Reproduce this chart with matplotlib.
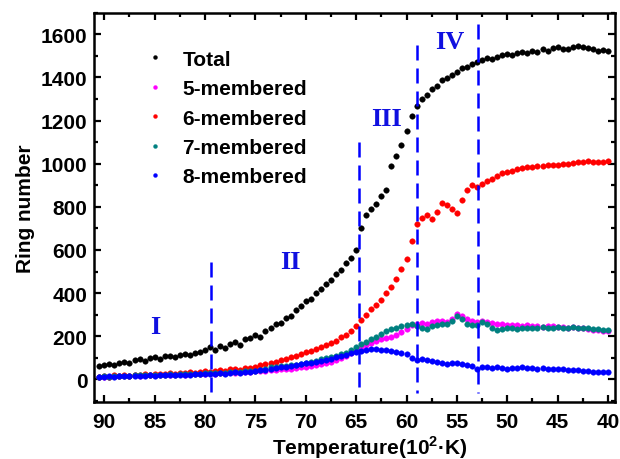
import matplotlib
matplotlib.use('Agg')
import matplotlib.pyplot as plt
from matplotlib.ticker import MultipleLocator

plt.rcParams['font.family'] = ['Liberation Sans', 'DejaVu Sans']
plt.rcParams['font.weight'] = 'bold'
plt.rcParams['mathtext.fontset'] = 'custom'
plt.rcParams['mathtext.rm'] = 'Liberation Sans:bold'
plt.rcParams['mathtext.bf'] = 'Liberation Sans:bold'

# temperature in 10^2 K, sampled every 0.5
temps = [90.5, 90.0, 89.5, 89.0, 88.5, 88.0, 87.5, 87.0, 86.5, 86.0,
         85.5, 85.0, 84.5, 84.0, 83.5, 83.0, 82.5, 82.0, 81.5, 81.0,
         80.5, 80.0, 79.5, 79.0, 78.5, 78.0, 77.5, 77.0, 76.5, 76.0,
         75.5, 75.0, 74.5, 74.0, 73.5, 73.0, 72.5, 72.0, 71.5, 71.0,
         70.5, 70.0, 69.5, 69.0, 68.5, 68.0, 67.5, 67.0, 66.5, 66.0,
         65.5, 65.0, 64.5, 64.0, 63.5, 63.0, 62.5, 62.0, 61.5, 61.0,
         60.5, 60.0, 59.5, 59.0, 58.5, 58.0, 57.5, 57.0, 56.5, 56.0,
         55.5, 55.0, 54.5, 54.0, 53.5, 53.0, 52.5, 52.0, 51.5, 51.0,
         50.5, 50.0, 49.5, 49.0, 48.5, 48.0, 47.5, 47.0, 46.5, 46.0,
         45.5, 45.0, 44.5, 44.0, 43.5, 43.0, 42.5, 42.0, 41.5, 41.0,
         40.5, 40.0]

total = [60, 68, 72, 66, 78, 82, 76, 88, 92, 86,
         98, 102, 94, 106, 110, 104, 115, 118, 112, 122,
         128, 135, 148, 136, 155, 146, 166, 172, 160, 185,
         192, 205, 196, 225, 238, 255, 262, 285, 296, 320,
         338, 365, 372, 400, 418, 440, 462, 490, 508, 540,
         565, 600, 700, 760, 790, 815, 850, 880, 990, 1035,
         1085, 1150, 1220, 1270, 1300, 1320, 1345, 1362, 1390, 1398,
         1412, 1425, 1442, 1448, 1462, 1470, 1482, 1490, 1484, 1496,
         1505, 1510, 1504, 1515, 1520, 1513, 1525, 1520, 1530, 1524,
         1535, 1540, 1530, 1534, 1542, 1546, 1540, 1538, 1530, 1524,
         1528, 1522]

ring5 = [10, 13, 12, 15, 14, 16, 15, 18, 17, 19,
         18, 20, 19, 21, 22, 21, 23, 22, 24, 25,
         26, 27, 28, 27, 30, 29, 32, 31, 33, 35,
         36, 37, 39, 40, 42, 44, 46, 48, 50, 53,
         56, 58, 62, 66, 70, 75, 82, 90, 100, 110,
         122, 132, 145, 158, 170, 180, 188, 192, 198, 205,
         218, 232, 250, 258, 262, 258, 265, 270, 272, 268,
         280, 302, 292, 278, 270, 268, 272, 268, 262, 255,
         258, 252, 250, 254, 248, 250, 246, 248, 244, 246,
         245, 242, 244, 240, 242, 238, 236, 234, 230, 228,
         226, 225]

ring6 = [12, 15, 13, 18, 16, 20, 17, 22, 20, 24,
         21, 25, 23, 27, 28, 25, 30, 28, 32, 30,
         35, 38, 36, 40, 43, 40, 46, 48, 45, 52,
         54, 58, 65, 70, 78, 82, 88, 95, 102, 110,
         118, 125, 132, 140, 150, 158, 170, 180, 195, 205,
         222, 245, 275, 300, 325, 345, 370, 400, 430, 465,
         510, 560, 640, 720, 750, 762, 745, 778, 820, 810,
         790, 770, 832, 880, 900, 890, 905, 918, 930, 945,
         955, 960, 968, 975, 980, 985, 984, 990, 988, 992,
         995, 992, 998, 1000, 1005, 1008, 1010, 1012, 1008, 1006,
         1010, 1012]

ring7 = [12, 14, 13, 16, 15, 17, 16, 19, 18, 20,
         19, 21, 20, 22, 23, 22, 24, 23, 25, 26,
         27, 28, 29, 28, 31, 30, 33, 34, 35, 37,
         38, 40, 44, 48, 55, 58, 60, 62, 65, 68,
         72, 76, 80, 86, 92, 98, 104, 108, 116, 122,
         135, 150, 165, 175, 188, 198, 210, 222, 232, 240,
         245, 252, 255, 248, 240, 232, 245, 250, 255, 258,
         270, 292, 280, 258, 252, 250, 268, 255, 240, 228,
         232, 236, 238, 235, 240, 238, 236, 240, 242, 238,
         240, 242, 240, 238, 242, 240, 236, 238, 234, 232,
         230, 228]

ring8 = [10, 12, 14, 13, 15, 14, 16, 15, 17, 16,
         18, 17, 19, 18, 20, 19, 21, 20, 22, 23,
         24, 25, 26, 25, 28, 27, 30, 32, 31, 34,
         36, 38, 42, 45, 48, 52, 55, 58, 62, 66,
         70, 74, 78, 82, 86, 90, 96, 102, 108, 114,
         120, 128, 132, 138, 142, 140, 138, 135, 130, 126,
         122, 116, 100, 88, 92, 90, 84, 80, 76, 70,
         74, 78, 70, 65, 60, 50, 55, 58, 52, 55,
         52, 50, 54, 52, 56, 54, 52, 50, 52, 48,
         50, 48, 46, 45, 42, 44, 40, 38, 36, 35,
         34, 33]

series_names = ['Total', '5-membered', '6-membered', '7-membered', '8-membered']
series_colors = ['black', '#ff00ff', '#ff0000', '#008080', '#0000ff']

# stage boundaries and labels
boundary_temps = [79.4, 64.7, 59.0, 52.9]
boundary_tops = [545, 1100, 1550, 1650]
stage_names = ['I', 'II', 'III', 'IV']
stage_x = [84.9, 71.5, 62.0, 55.7]
stage_y = [245, 545, 1210, 1565]

fig = plt.figure(figsize=(6.2, 4.6), dpi=100)
ax = fig.add_axes([0.152, 0.124, 0.84, 0.846])

for vals, name, col in zip([total, ring5, ring6, ring7, ring8], series_names, series_colors):
    ax.plot(temps, vals, 'o', ms=4.0, color=col, mec=col, mew=0.3, label=name)

# draw from the top down so each line starts with a full dash
for t, top in zip(boundary_temps, boundary_tops):
    ax.plot([t, t], [top, -65], color='#0000ff', lw=1.8, linestyle=(0, (6, 3.2)))

for s, x, y in zip(stage_names, stage_x, stage_y):
    ax.text(x, y, s, color='#1010e0', fontsize=19, fontweight='bold',
            family='Liberation Serif', ha='center', va='center')

ax.set_xlim(91, 39.3)
ax.set_ylim(-105, 1700)
ax.xaxis.set_major_locator(MultipleLocator(5))
ax.xaxis.set_minor_locator(MultipleLocator(2.5))
ax.yaxis.set_major_locator(MultipleLocator(200))
ax.yaxis.set_minor_locator(MultipleLocator(100))
ax.set_yticks(range(0, 1601, 200))
ax.tick_params(which='both', direction='in', top=True, right=True, width=1.6, labelsize=15)
ax.tick_params(which='major', length=5)
ax.tick_params(which='minor', length=3)
ax.tick_params(axis='x', pad=7)
ax.tick_params(axis='y', pad=5)
for sp in ax.spines.values():
    sp.set_linewidth(1.8)

ax.set_xlabel(r'Temperature(10$^{\mathbf{2}}$·K)', fontsize=15, fontweight='bold')
ax.xaxis.set_label_coords(0.53, -0.08)
ax.set_ylabel('Ring number', fontsize=15, fontweight='bold', labelpad=4)

ax.legend(loc='upper left', bbox_to_anchor=(0.097, 0.905), frameon=False, numpoints=1,
          markerscale=0.7, handlelength=1.0, handletextpad=0.8, labelspacing=0.5,
          borderpad=0, borderaxespad=0, prop={'size': 15, 'weight': 'bold'})

fig.savefig('out.png', dpi=100)
